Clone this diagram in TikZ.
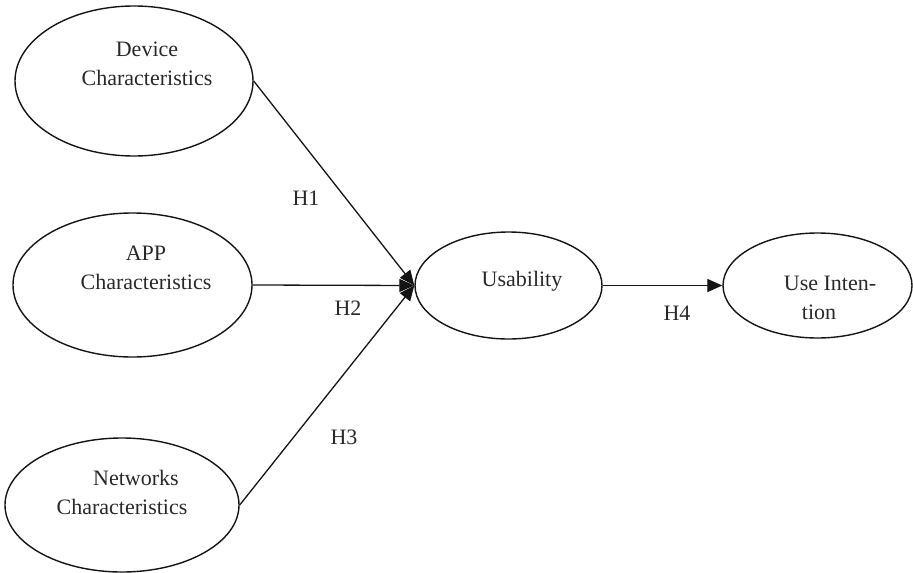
\documentclass[tikz,border=0pt]{standalone}
\usepackage{fontspec}
\setmainfont{Liberation Serif}
\usepackage{tikz}
\usetikzlibrary{shapes.geometric}
\usetikzlibrary{arrows.meta}
\usepackage{xcolor}
\definecolor{ColLine}{RGB}{20,20,20}
\definecolor{ColText}{RGB}{40,40,40}
\tikzstyle{Construct}=[ellipse,draw=ColLine,line width=.7pt,inner sep=0pt]
\tikzstyle{ConstructText}=[align=center,text=ColText,inner sep=0pt,
font=\fontsize{11}{14.5}\selectfont]
\tikzstyle{PathLabel}=[text=ColText,inner sep=0pt,font=\fontsize{11}{14}\selectfont]
\tikzstyle{EdgeHyp}=[ColLine,line width=.65pt,-{Triangle[length=7.5pt,width=6.5pt]}]

\begin{document}
\begin{tikzpicture}[x=5pt,y=-5pt]
        \useasboundingbox(0,0)rectangle(91.3,57.2);
        % constructs
        \node[Construct,minimum width=119pt,minimum height=75pt](dev)at(13.4,8.1){};
        \node[Construct,minimum width=119.5pt,minimum height=72pt](app)at(13.25,28.5){};
        \node[Construct,minimum width=117pt,minimum height=67pt](net)at(12.2,50.5){};
        \node[Construct,minimum width=93.5pt,minimum height=53.5pt](usa)at(50.85,28.55){};
        \node[Construct,minimum width=94.5pt,minimum height=52.5pt](uin)at(81.75,28.55){};
        \node[ConstructText](devtxt)at(14.7,6.4){Device\\Characteristics};
        \node[ConstructText](apptxt)at(14.6,26.8){APP\\Characteristics};
        \node[ConstructText](nettxt)at(12.2,49.2){\hspace*{14pt}Networks\\Characteristics};
        \node[ConstructText](usatxt)at(52.2,28.1){Usability};
        \node[ConstructText](uintxt)at(83.0,29.75){Use Inten-\\tion\hspace*{11pt}};
        % hypotheses
        \draw[EdgeHyp](dev.east)--(usa.west);
        \draw[EdgeHyp](app.east)--(usa.west);
        \draw[EdgeHyp](net.east)--(usa.west);
        \draw[EdgeHyp](usa.east)--(uin.west);
        \node[PathLabel](h1)at(30.6,19.8){H1};
        \node[PathLabel](h2)at(34.8,30.8){H2};
        \node[PathLabel](h3)at(34.4,43.7){H3};
        \node[PathLabel](h4)at(67.7,31.3){H4};
    \end{tikzpicture}
\end{document}
